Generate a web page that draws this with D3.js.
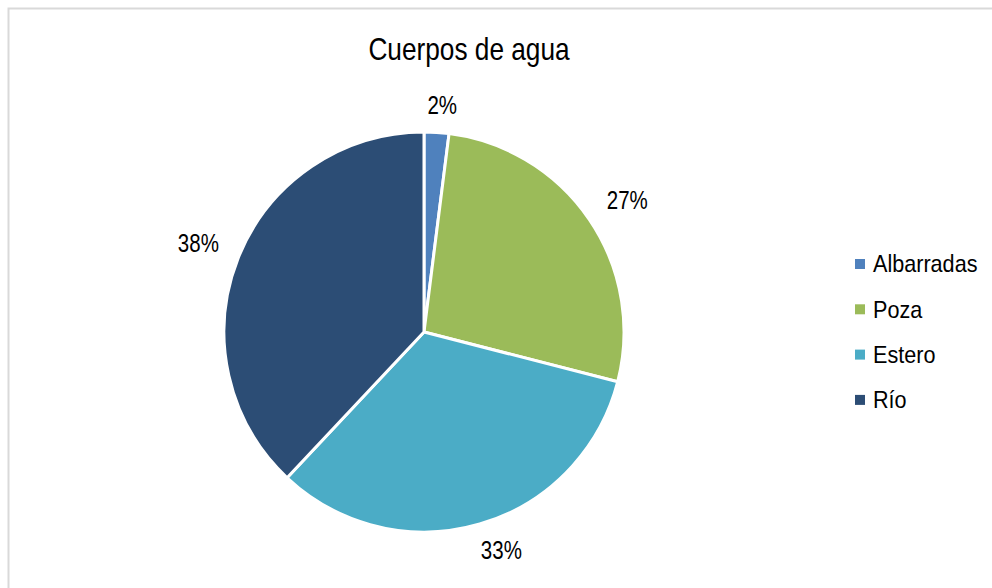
<!doctype html>
<html lang="en">
<head>
    <meta charset="utf-8"/>
    <title>Cuerpos de agua</title>
    <style>
        body { margin: 0; background: #fff; }
        svg { display: block; font-family: "Liberation Sans Narrow", "Arial Narrow", "Liberation Sans", Arial, sans-serif; }
    </style>
</head>
<body>
    <svg id="chart"></svg>
    <script src="https://d3js.org/d3.v7.min.js"></script>
    <script>
        // data
        const categories = ["Albarradas", "Poza", "Estero", "Río"];
        const values = [2, 27, 33, 38];
        const labels = ["2%", "27%", "33%", "38%"];
        const colors = ["#4f81bd", "#9bbb59", "#4bacc6", "#2c4d75"];

        const width = 992, height = 588;
        const cx = 424, cy = 332, radius = 200;
        const narrow = 0.82; // no narrow font installed, squeeze glyphs instead

        const svg = d3.select("#chart")
            .attr("width", width)
            .attr("height", height);

        // chart area frame
        svg.append("rect")
            .attr("x", 8.5).attr("y", 8.5)
            .attr("width", width + 10).attr("height", height + 10)
            .attr("fill", "#fff")
            .attr("stroke", "#d9d9d9")
            .attr("stroke-width", 2);

        svg.append("text")
            .attr("transform", `translate(469,60) scale(${narrow},1)`)
            .attr("text-anchor", "middle")
            .attr("font-size", 32)
            .attr("fill", "#000")
            .text("Cuerpos de agua");

        const pie = d3.pie().sort(null).value(d => d)(values);
        const arc = d3.arc().innerRadius(0).outerRadius(radius);

        const g = svg.append("g").attr("transform", `translate(${cx},${cy})`);

        g.selectAll("path")
            .data(pie)
            .enter().append("path")
                .attr("d", arc)
                .attr("fill", (d, i) => colors[i])
                .attr("stroke", "#fff")
                .attr("stroke-width", 3)
                .attr("stroke-linejoin", "round");

        // labels outside the pie: radial point plus half the label box
        const boxW = 25, boxH = 11;
        g.selectAll("text.lbl")
            .data(pie)
            .enter().append("text")
                .attr("class", "lbl")
                .attr("text-anchor", "middle")
                .attr("dy", "0.35em")
                .attr("font-size", 25)
                .attr("fill", "#000")
                .attr("transform", function (d) {
                    const a = (d.startAngle + d.endAngle) / 2;
                    const s = Math.sin(a), c = Math.cos(a);
                    const r = radius + 16;
                    const x = r * s + boxW * Math.tanh(3 * s);
                    const y = -r * c - boxH * Math.tanh(3 * c);
                    return `translate(${x},${y}) scale(${narrow},1)`;
                })
                .text((d, i) => labels[i]);

        // legend
        const legend = svg.append("g").attr("transform", "translate(855,264)");
        const row = legend.selectAll("g")
            .data(categories)
            .enter().append("g")
                .attr("transform", (d, i) => `translate(0,${i * 45.3})`);
        row.append("rect")
            .attr("x", 0).attr("y", -5)
            .attr("width", 10).attr("height", 10)
            .attr("fill", (d, i) => colors[i]);
        row.append("text")
            .attr("transform", `translate(18,0) scale(0.9,1)`)
            .attr("dy", "0.35em")
            .attr("font-size", 24)
            .attr("fill", "#000")
            .text(d => d);
    </script>
</body>
</html>
